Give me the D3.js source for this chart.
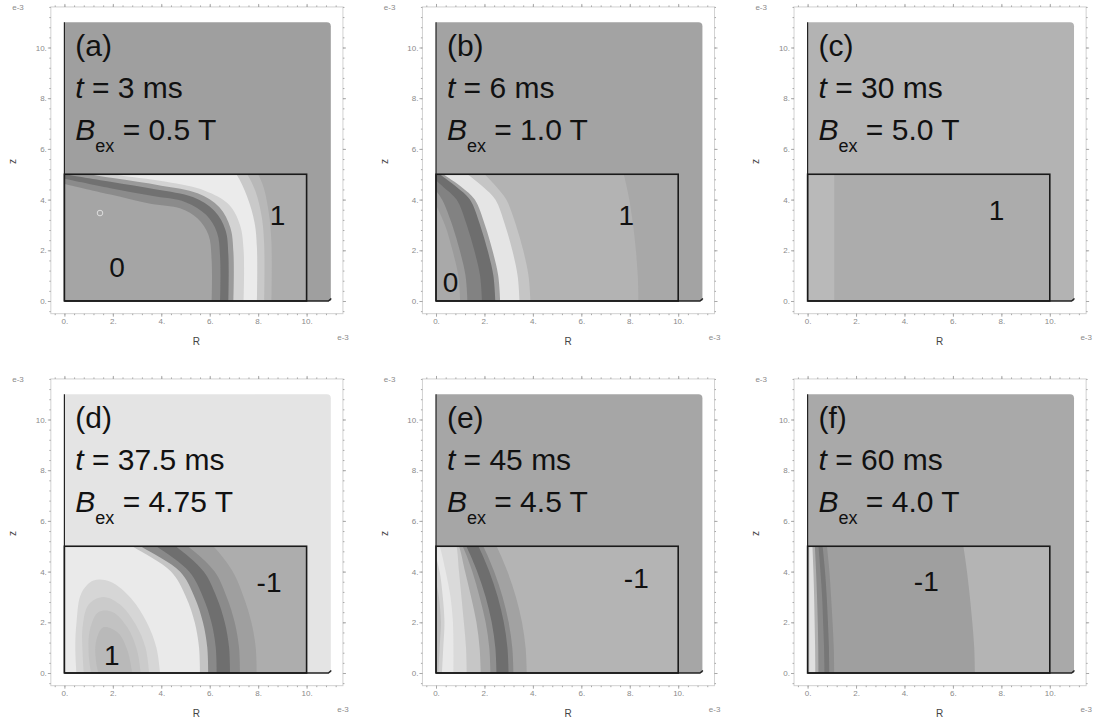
<!DOCTYPE html>
<html>
<head>
<meta charset="utf-8">
<script src="https://cdn.jsdelivr.net/npm/d3@7"></script>
<style>
  body { margin: 0; background: #fff; }
  text { font-family: "Liberation Sans", Arial, sans-serif; }
</style>
</head>
<body>
<div id="chart"></div>
<script>
// panel captions
var panelKeys = ["a", "b", "c", "d", "e", "f"];
var times = ["3", "6", "30", "37.5", "45", "60"];
var fields = ["0.5", "1.0", "5.0", "4.75", "4.5", "4.0"];

// shade outside the box / inside the box, per panel
var outerShade = ["#9f9f9f", "#a3a3a3", "#b3b3b3", "#e4e4e4", "#a6a6a6", "#a9a9a9"];
var rectShade = ["#ababab", "#a8a8a8", "#acacac", "#adadad", "#b4b4b4", "#b4b4b4"];

// contour boundaries (R, z in e-3), outermost first, fill = shade inside the boundary
var contoursA = [
	{fill: "#b8b8b8", pts: [[8.55,0],[8.55,2.3],[8.45,3.4],[8.25,4.4],[8.0,5.0],[7.6,5.6]]},
	{fill: "#c9c9c9", pts: [[8.25,0],[8.25,2.2],[8.15,3.3],[7.9,4.3],[7.55,5.0],[7.1,5.6]]},
	{fill: "#ebebeb", pts: [[7.95,0],[7.95,2.1],[7.85,3.1],[7.55,4.1],[7.1,5.0],[6.5,5.6]]},
	{fill: "#d3d3d3", pts: [[7.4,0],[7.4,2.0],[7.25,3.0],[6.8,3.8],[5.8,4.35],[4.2,4.7],[2.0,5.0],[0.5,5.3]]},
	{fill: "#9a9a9a", pts: [[6.98,0],[6.98,1.9],[6.85,2.9],[6.4,3.7],[5.5,4.25],[4.0,4.55],[2.0,4.85],[0,5.15]]},
	{fill: "#717171", pts: [[6.77,0],[6.77,1.8],[6.65,2.8],[6.2,3.55],[5.3,4.1],[3.8,4.4],[1.9,4.7],[0,5.0]]},
	{fill: "#8b8b8b", pts: [[6.43,0],[6.43,1.7],[6.3,2.7],[5.85,3.4],[5.0,3.9],[3.6,4.15],[1.9,4.45],[0,4.82]]},
	{fill: "#a5a5a5", pts: [[6.08,0],[6.08,1.6],[5.95,2.6],[5.5,3.25],[4.8,3.65],[3.5,3.85],[1.9,4.2],[0,4.62]]}
];
var contoursB = [
	{fill: "#b3b3b3", pts: [[8.36,0],[8.33,1],[8.2,2.5],[7.98,4],[7.75,5],[7.6,5.5]]},
	{fill: "#c5c5c5", pts: [[3.9,0],[3.82,1],[3.6,2],[3.3,3],[2.9,4],[2.5,4.5],[2.0,5],[1.5,5.4]]},
	{fill: "#e5e5e5", pts: [[3.45,0],[3.37,1],[3.15,2],[2.85,3],[2.45,4],[1.95,4.5],[1.3,5],[0.8,5.4]]},
	{fill: "#a0a0a0", pts: [[2.65,0],[2.57,1],[2.33,2],[2.02,3],[1.6,4],[1.05,4.5],[0.3,5],[0,5.2]]},
	{fill: "#6e6e6e", pts: [[2.45,0],[2.37,1],[2.13,2],[1.82,3],[1.4,4],[0.85,4.5],[0.15,5],[0,5.1]]},
	{fill: "#828282", pts: [[1.9,0],[1.82,1],[1.58,2],[1.27,3],[0.85,4],[0.3,4.5],[0,4.75]]},
	{fill: "#9b9b9b", pts: [[1.3,0],[1.22,1],[0.98,2],[0.67,3],[0.25,4],[0,4.35]]},
	{fill: "#a9a9a9", pts: [[1.0,0],[0.92,1],[0.68,2],[0.37,3],[0,3.8]]}
];
var contoursC = [
	{fill: "#b9b9b9", pts: [[1.1,0],[1.1,2.5],[1.1,5.5]]}
];
var contoursD = [
	{fill: "#9f9f9f", pts: [[7.94,0],[7.9,1],[7.72,2],[7.4,3],[6.95,4],[6.15,5],[5.5,5.5]]},
	{fill: "#8b8b8b", pts: [[7.25,0],[7.21,1],[7.03,2],[6.7,3],[6.2,4],[5.1,5],[4.4,5.5]]},
	{fill: "#6f6f6f", pts: [[6.84,0],[6.8,1],[6.62,2],[6.28,3],[5.75,4],[4.6,5],[3.9,5.5]]},
	{fill: "#898989", pts: [[6.29,0],[6.25,1],[6.07,2],[5.72,3],[5.15,4],[3.8,5],[3.0,5.5]]},
	{fill: "#c4c4c4", pts: [[5.94,0],[5.9,1],[5.72,2],[5.37,3],[4.77,4],[3.15,5],[2.3,5.5]]},
	{fill: "#eaeaea", pts: [[5.6,0],[5.56,1],[5.38,2],[5.02,3],[4.4,4],[2.8,5],[1.9,5.5]]},
	// the blob round the "1"
	{fill: "#d6d6d6", pts: [[3.95,0],[3.8,1],[3.4,2],[2.75,2.95],[1.9,3.6],[1.2,3.65],[0.7,3.15],[0.5,2],[0.45,1],[0.5,0]]},
	{fill: "#cbcbcb", pts: [[3.5,0],[3.35,1],[2.95,1.9],[2.3,2.7],[1.6,3.0],[1.0,2.7],[0.75,1.8],[0.75,0.8],[0.8,0]]},
	{fill: "#c2c2c2", pts: [[3.15,0],[3.0,0.9],[2.6,1.8],[2.0,2.4],[1.4,2.4],[1.05,1.7],[1.0,0.8],[1.1,0]]},
	{fill: "#b9b9b9", pts: [[2.8,0],[2.6,0.9],[2.2,1.6],[1.6,1.8],[1.3,1.2],[1.3,0.5],[1.4,0]]}
];
var contoursE = [
	{fill: "#a2a2a2", pts: [[3.75,0],[3.7,1],[3.55,2],[3.3,3],[2.95,4],[2.5,5],[2.2,5.5]]},
	{fill: "#8a8a8a", pts: [[3.2,0],[3.15,1],[3.0,2],[2.75,3],[2.4,4],[1.95,5],[1.65,5.5]]},
	{fill: "#6e6e6e", pts: [[3.0,0],[2.95,1],[2.8,2],[2.55,3],[2.2,4],[1.75,5],[1.45,5.5]]},
	{fill: "#8f8f8f", pts: [[2.5,0],[2.45,1],[2.3,2],[2.05,3],[1.7,4],[1.25,5],[0.95,5.5]]},
	{fill: "#a8a8a8", pts: [[2.25,0],[2.2,1],[2.05,2],[1.8,3],[1.5,4],[1.1,5],[0.8,5.5]]},
	{fill: "#c6c6c6", pts: [[1.85,0],[1.8,1],[1.67,2],[1.45,3],[1.2,4],[0.95,5],[0.7,5.5]]},
	{fill: "#dadada", pts: [[1.27,0],[1.24,1],[1.15,2],[1.05,3],[0.95,4],[0.85,5],[0.7,5.5]]},
	{fill: "#e8e8e8", pts: [[0.72,0],[0.72,1],[0.7,2],[0.6,3],[0.4,4],[0.15,5],[0,5.3]]},
	{fill: "#d0d0d0", pts: [[0.25,0],[0.3,1],[0.35,2],[0.28,3],[0.15,4],[0,4.6]]},
	{fill: "#bdbdbd", pts: [[0.1,0],[0.15,1],[0.2,2],[0.12,3],[0,3.6]]}
];
var contoursF = [
	{fill: "#9f9f9f", pts: [[6.91,0],[6.88,1],[6.8,2],[6.7,3],[6.58,4],[6.43,5],[6.33,5.5]]},
	{fill: "#8e8e8e", pts: [[1.1,0],[1.08,1],[1.03,2],[0.97,3],[0.9,4],[0.8,5],[0.74,5.5]]},
	{fill: "#777777", pts: [[0.9,0],[0.88,1],[0.84,2],[0.79,3],[0.72,4],[0.62,5],[0.56,5.5]]},
	{fill: "#8a8a8a", pts: [[0.7,0],[0.68,1],[0.64,2],[0.6,3],[0.53,4],[0.45,5],[0.4,5.5]]},
	{fill: "#b0b0b0", pts: [[0.45,0],[0.44,1],[0.42,2],[0.39,3],[0.35,4],[0.3,5],[0.27,5.5]]},
	{fill: "#e0e0e0", pts: [[0.32,0],[0.31,1],[0.29,2],[0.27,3],[0.24,4],[0.2,5],[0.18,5.5]]},
	{fill: "#cccccc", pts: [[0.08,0],[0.08,2.5],[0.08,5.5]]}
];
var contours = [contoursA, contoursB, contoursC, contoursD, contoursE, contoursF];

// region labels: text, R, z
var regionLabels = [
	[["0", 2.17, 0.95], ["1", 8.8, 3.0]],
	[["0", 0.6, 0.37], ["1", 7.86, 3.0]],
	[["1", 7.8, 3.2]],
	[["-1", 8.45, 3.2], ["1", 1.96, 0.3]],
	[["-1", 8.27, 3.35]],
	[["-1", 4.9, 3.25]]
];

// small numerical ring in (a)
var ringsA = [[1.47, 3.47]];

var majorTicks = [0, 2, 4, 6, 8, 10];
var minorTicksX = d3.range(-0.4, 11.45, 0.4);
var minorTicksY = d3.range(-0.4, 11.65, 0.4);

var width = 1094, height = 720;
var colStep = 371.6, rowStep = 372;

var svg = d3.select("#chart")
	.append("svg")
	.attr("width", width)
	.attr("height", height)
	.style("display", "block");

var x = d3.scaleLinear().domain([0, 10]).range([64.4, 64.4 + 242.2]);
var y = d3.scaleLinear().domain([0, 10]).range([301, 301 - 253.5]);

var line = d3.line()
	.x(function(d){ return x(d[0]); })
	.y(function(d){ return y(d[1]); })
	.curve(d3.curveCatmullRom.alpha(0.5));

var contourPath = function(pts){
	var last = pts[pts.length - 1];
	return line(pts) + "L" + x(0) + "," + y(last[1]) + "L" + x(0) + "," + y(0) + "Z";
};

var styleAxis = function(g){
	g.attr("color", "#8a8a8a");
	g.select(".domain").remove();
	g.selectAll(".tick line").attr("stroke", "#a8a8a8");
	g.selectAll(".tick text")
		.attr("fill", "#8a8a8a")
		.style("font-size", "8px")
		.style("font-family", "Liberation Sans, Arial, sans-serif");
};

panelKeys.forEach(function(key, i){
	var col = i % 3, row = Math.floor(i / 3);
	var g = svg.append("g")
		.attr("transform", "translate(" + (col * colStep) + "," + (row * rowStep) + ")");

	var fmt = function(d){ return d + "."; };

	// frame
	g.append("rect")
		.attr("x", x(-0.56)).attr("y", y(11.6))
		.attr("width", x(11.5) - x(-0.56)).attr("height", y(-0.5) - y(11.6))
		.attr("fill", "#fff").attr("stroke", "#d2d2d2").attr("stroke-width", 1);

	// ticks, all four sides
	g.append("g").attr("transform", "translate(0," + y(-0.5) + ")")
		.call(d3.axisBottom(x).tickValues(minorTicksX).tickFormat("").tickSize(1.5)).call(styleAxis);
	g.append("g").attr("transform", "translate(0," + y(-0.5) + ")")
		.call(d3.axisBottom(x).tickValues(majorTicks).tickFormat(fmt).tickSize(3).tickPadding(2)).call(styleAxis);
	g.append("g").attr("transform", "translate(0," + y(11.6) + ")")
		.call(d3.axisTop(x).tickValues(minorTicksX).tickFormat("").tickSize(1.5)).call(styleAxis);
	g.append("g").attr("transform", "translate(0," + y(11.6) + ")")
		.call(d3.axisTop(x).tickValues(majorTicks).tickFormat("").tickSize(3)).call(styleAxis);
	g.append("g").attr("transform", "translate(" + x(-0.56) + ",0)")
		.call(d3.axisLeft(y).tickValues(minorTicksY).tickFormat("").tickSize(1.5)).call(styleAxis);
	g.append("g").attr("transform", "translate(" + x(-0.56) + ",0)")
		.call(d3.axisLeft(y).tickValues(majorTicks).tickFormat(fmt).tickSize(3).tickPadding(1)).call(styleAxis);
	g.append("g").attr("transform", "translate(" + x(11.5) + ",0)")
		.call(d3.axisRight(y).tickValues(minorTicksY).tickFormat("").tickSize(1.5)).call(styleAxis);
	g.append("g").attr("transform", "translate(" + x(11.5) + ",0)")
		.call(d3.axisRight(y).tickValues(majorTicks).tickFormat("").tickSize(3)).call(styleAxis);

	// e-3 exponents and axis names
	g.append("text").attr("x", 18).attr("y", 10).attr("text-anchor", "middle")
		.attr("fill", "#8a8a8a").style("font-size", "8px").text("e-3");
	g.append("text").attr("x", 343).attr("y", 340).attr("text-anchor", "middle")
		.attr("fill", "#8a8a8a").style("font-size", "8px").text("e-3");
	g.append("text").attr("x", x(5.45)).attr("y", 345).attr("text-anchor", "middle")
		.attr("fill", "#444").style("font-size", "10px").text("R");
	g.append("text").attr("transform", "translate(16," + y(5.5) + ") rotate(-90)")
		.attr("text-anchor", "middle").attr("fill", "#444").style("font-size", "10px").text("z");

	// grey field area, rounded top right corner
	var r = 4;
	g.append("path")
		.attr("d", "M" + x(0) + "," + y(0) + "L" + x(0) + "," + y(11) +
			"L" + (x(11) - r) + "," + y(11) + "Q" + x(11) + "," + y(11) + " " + x(11) + "," + (y(11) + r) +
			"L" + x(11) + "," + y(0) + "Z")
		.attr("fill", outerShade[i]);

	// the box
	g.append("rect")
		.attr("x", x(0)).attr("y", y(5))
		.attr("width", x(10) - x(0)).attr("height", y(0) - y(5))
		.attr("fill", rectShade[i]);

	var clipId = "clip_" + key;
	g.append("clipPath").attr("id", clipId)
		.append("rect")
		.attr("x", x(0)).attr("y", y(5))
		.attr("width", x(10) - x(0)).attr("height", y(0) - y(5));

	g.append("g").attr("clip-path", "url(#" + clipId + ")")
		.selectAll("path")
		.data(contours[i])
		.enter()
		.append("path")
		.attr("d", function(d){ return contourPath(d.pts); })
		.attr("fill", function(d){ return d.fill; });

	if(i == 0){
		g.selectAll(".ring")
			.data(ringsA)
			.enter()
			.append("circle")
			.attr("cx", function(d){ return x(d[0]); })
			.attr("cy", function(d){ return y(d[1]); })
			.attr("r", 2.8)
			.attr("fill", "none")
			.attr("stroke", "#dedede")
			.attr("stroke-width", 1);
	}

	// black edges
	g.append("line")
		.attr("x1", x(0)).attr("y1", y(0)).attr("x2", x(0)).attr("y2", y(11))
		.attr("stroke", "#222").attr("stroke-width", 1.2);
	g.append("path")
		.attr("d", "M" + x(0) + "," + y(0) + "L" + x(10.9) + "," + y(0) + "L" + x(11.02) + "," + y(0.1))
		.attr("fill", "none").attr("stroke", "#222").attr("stroke-width", 1.5);
	g.append("rect")
		.attr("x", x(0)).attr("y", y(5))
		.attr("width", x(10) - x(0)).attr("height", y(0) - y(5))
		.attr("fill", "none").attr("stroke", "#1a1a1a").attr("stroke-width", 1.6);

	// captions
	var tx = x(0.45);
	g.append("text").attr("x", tx).attr("y", 56)
		.attr("fill", "#111").style("font-size", "30px").text("(" + key + ")");
	var t2 = g.append("text").attr("x", tx).attr("y", 98)
		.attr("fill", "#111").style("font-size", "30px");
	t2.append("tspan").style("font-style", "italic").text("t");
	t2.append("tspan").text(" = " + times[i] + " ms");
	var t3 = g.append("text").attr("x", tx).attr("y", 140)
		.attr("fill", "#111").style("font-size", "30px");
	t3.append("tspan").style("font-style", "italic").text("B");
	t3.append("tspan").attr("dy", 12).style("font-size", "18px").text("ex");
	t3.append("tspan").attr("dy", -12).text(" = " + fields[i] + " T");

	g.selectAll(".region")
		.data(regionLabels[i])
		.enter()
		.append("text")
		.attr("x", function(d){ return x(d[1]); })
		.attr("y", function(d){ return y(d[2]); })
		.attr("text-anchor", "middle")
		.attr("fill", "#111")
		.style("font-size", "28px")
		.text(function(d){ return d[0]; });
});
</script>
</body>
</html>
